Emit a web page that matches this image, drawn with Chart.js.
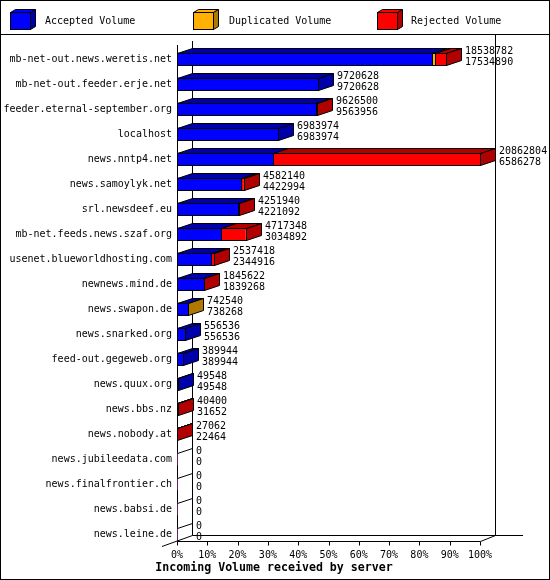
<!DOCTYPE html>
<html>
<head>
<meta charset="utf-8">
<script src="https://cdn.jsdelivr.net/npm/chart.js@4.4.1/dist/chart.umd.min.js"></script>
<style>
  html, body { margin: 0; padding: 0; background: #fff; }
  #wrap { width: 550px; height: 580px; }
</style>
</head>
<body>
<div id="wrap"><canvas id="chart" width="550" height="580"></canvas></div>
<script>
"use strict";

// ---- data ----
const servers = [
  "mb-net-out.news.weretis.net",
  "mb-net-out.feeder.erje.net",
  "feeder.eternal-september.org",
  "localhost",
  "news.nntp4.net",
  "news.samoylyk.net",
  "srl.newsdeef.eu",
  "mb-net.feeds.news.szaf.org",
  "usenet.blueworldhosting.com",
  "newnews.mind.de",
  "news.swapon.de",
  "news.snarked.org",
  "feed-out.gegeweb.org",
  "news.quux.org",
  "news.bbs.nz",
  "news.nobody.at",
  "news.jubileedata.com",
  "news.finalfrontier.ch",
  "news.babsi.de",
  "news.leine.de",
];
const totalVolume = [
  18538782, 9720628, 9626500, 6983974, 20862804, 4582140, 4251940, 4717348,
  2537418, 1845622, 742540, 556536, 389944, 49548, 40400, 27062, 0, 0, 0, 0,
];
const acceptedVolume = [
  17534890, 9720628, 9563956, 6983974, 6586278, 4422994, 4221092, 3034892,
  2344916, 1839268, 738268, 556536, 389944, 49548, 31652, 22464, 0, 0, 0, 0,
];
const duplicatedVolume = [
  250000, 0, 0, 0, 0, 0, 0, 0, 0, 0, 4272, 0, 0, 0, 0, 0, 0, 0, 0, 0,
];
const rejectedVolume = [
  753892, 0, 62544, 0, 14276526, 159146, 30848, 1682456, 192502, 6354,
  0, 0, 0, 0, 8748, 4598, 0, 0, 0, 0,
];
const seriesNames = ["Accepted Volume", "Duplicated Volume", "Rejected Volume"];
const tickLabels = ["0%", "10%", "20%", "30%", "40%", "50%", "60%", "70%", "80%", "90%", "100%"];
const axisTitle = "Incoming Volume received by server";

// ---- look ----
const FRONT = ["#0000ff", "#ffb000", "#ff0000"];
const SHADE = ["#0000aa", "#b07800", "#b00000"];
const DX = 15;  // 3D depth, x
const DY = 5;   // 3D depth, y
const FONT = "10px 'DejaVu Sans Mono', monospace";
const BOLD = "bold 11.6px 'DejaVu Sans Mono', monospace";

// bars are scaled against the biggest server (= 100%)
const maxTotal = Math.max(...totalVolume);
const pct = (arr) => arr.map((v) => (v / maxTotal) * 100);
const series = [acceptedVolume, duplicatedVolume, rejectedVolume];

function line(ctx, x1, y1, x2, y2) {
  ctx.beginPath();
  ctx.moveTo(x1, y1);
  ctx.lineTo(x2, y2);
  ctx.stroke();
}

function poly(ctx, pts, fill) {
  ctx.beginPath();
  ctx.moveTo(pts[0][0], pts[0][1]);
  for (let i = 1; i < pts.length; i++) ctx.lineTo(pts[i][0], pts[i][1]);
  ctx.closePath();
  if (fill) {
    ctx.fillStyle = fill;
    ctx.fill();
  }
  ctx.stroke();
}

/**
 * Pseudo-3D look: walls + floor behind the bars, then top / side faces
 * and outlines on top of the bars Chart.js filled, plus value labels,
 * legend boxes and the axis title.
 */
const box3d = {
  id: "box3d",

  beforeDatasetsDraw(chart) {
    const { ctx, chartArea, scales } = chart;
    const left = Math.round(chartArea.left);
    const right = Math.round(chartArea.right);
    const top = Math.round(chartArea.top);
    const floor = Math.round(chartArea.bottom - 5.5);
    const back = floor - 6;

    ctx.save();
    ctx.strokeStyle = "#000";
    ctx.lineWidth = 1;

    // walls
    line(ctx, left + 0.5, top - 2, left + 0.5, floor + 0.5);
    line(ctx, left + DX + 0.5, top - 6, left + DX + 0.5, back + 0.5);
    line(ctx, right + DX + 0.5, 35, right + DX + 0.5, back + 0.5);

    // floor
    line(ctx, left + 0.5, floor + 0.5, right + 0.5, floor + 0.5);
    line(ctx, left + DX + 0.5, back + 0.5, right + DX + 28, back + 0.5);
    line(ctx, left - 15, floor + 5.5, left + DX + 0.5, back + 0.5);
    line(ctx, right + 0.5, floor + 0.5, right + DX + 0.5, back + 0.5);

    // tick marks
    scales.x.ticks.forEach((t) => {
      const px = Math.round(scales.x.getPixelForValue(t.value)) + 0.5;
      line(ctx, px, floor + 0.5, px, floor + 4.5);
    });
    ctx.restore();
  },

  afterDatasetsDraw(chart) {
    const { ctx, scales } = chart;
    const xs = scales.x;
    const metas = chart.data.datasets.map((_, i) => chart.getDatasetMeta(i));

    ctx.save();
    ctx.strokeStyle = "#000";
    ctx.lineWidth = 1;

    servers.forEach((_, j) => {
      const els = metas.map((m) => m.data[j].getProps(["x", "y", "base", "height"], true));
      const T = Math.round(els[0].y - els[0].height / 2) + 0.5;
      const B = Math.round(els[0].y + els[0].height / 2) + 0.5;
      const L0 = Math.round(xs.getPixelForValue(0)) + 0.5;

      if (!totalVolume[j]) {
        line(ctx, L0, T, L0 + DX, T - DY);
      } else {
        let last = -1;
        els.forEach((el, i) => {
          if (!series[i][j]) return;
          const L = Math.round(el.base) + 0.5;
          const R = Math.round(el.x) + 0.5;
          // top face
          poly(ctx, [[L, T], [L + DX, T - DY], [R + DX, T - DY], [R, T]], SHADE[i]);
          // front outline
          ctx.strokeRect(L, T, R - L, B - T);
          last = i;
        });
        const R = Math.round(els[last].x) + 0.5;
        poly(ctx, [[R, T], [R + DX, T - DY], [R + DX, B - DY], [R, B]], SHADE[last]);
      }

      // value labels: total above, accepted below
      const endX = Math.round(xs.getPixelForValue(pct(totalVolume)[j])) + DX + 4;
      const cy = els[0].y;
      ctx.fillStyle = "#000";
      ctx.font = FONT;
      ctx.textAlign = "left";
      ctx.textBaseline = "alphabetic";
      ctx.fillText(String(totalVolume[j]), endX, cy - 5);
      ctx.fillText(String(acceptedVolume[j]), endX, cy + 6);
    });
    ctx.restore();
  },

  afterDraw(chart) {
    const { ctx, width, height } = chart;
    ctx.save();
    ctx.strokeStyle = "#000";
    ctx.lineWidth = 1;

    // frame + legend separator
    ctx.strokeRect(0.5, 0.5, width - 1, height - 1);
    line(ctx, 0, 34.5, width, 34.5);

    // legend
    const boxX = [10, 193, 377];
    const textX = [45, 229, 411];
    chart.data.datasets.forEach((ds, i) => {
      const x = boxX[i] + 0.5;
      const y = 12.5;
      const w = 20;
      const h = 17;
      poly(ctx, [[x, y], [x + 5, y - 3], [x + w + 5, y - 3], [x + w, y]], FRONT[i]);
      poly(ctx, [[x + w, y], [x + w + 5, y - 3], [x + w + 5, y + h - 3], [x + w, y + h]], SHADE[i]);
      ctx.fillStyle = FRONT[i];
      ctx.fillRect(x, y, w, h);
      ctx.strokeRect(x, y, w, h);
      ctx.fillStyle = "#000";
      ctx.font = FONT;
      ctx.textBaseline = "alphabetic";
      ctx.textAlign = "left";
      ctx.fillText(ds.label, textX[i], 24);
    });

    // axis title
    ctx.font = BOLD;
    ctx.textAlign = "center";
    ctx.fillText(axisTitle, 274, 571);
    ctx.restore();
  },
};

new Chart(document.getElementById("chart"), {
  type: "bar",
  data: {
    labels: servers,
    datasets: series.map((arr, i) => ({
      label: seriesNames[i],
      data: pct(arr),
      backgroundColor: FRONT[i],
      borderWidth: 0,
      barThickness: 12,
    })),
  },
  options: {
    indexAxis: "y",
    responsive: false,
    devicePixelRatio: 1,
    animation: false,
    layout: { padding: { left: 0, top: 46.5, right: 70, bottom: 0 } },
    plugins: {
      legend: { display: false },
      tooltip: { enabled: false },
    },
    scales: {
      x: {
        stacked: true,
        min: 0,
        max: 100,
        grid: { display: false, drawTicks: false },
        border: { display: false },
        ticks: {
          stepSize: 10,
          padding: 3,
          color: "#000",
          font: { family: "'DejaVu Sans Mono', monospace", size: 10 },
          callback: (v, idx) => tickLabels[idx],
        },
        afterFit: (scale) => { scale.height = 33.5; },
      },
      y: {
        stacked: true,
        grid: { display: false, drawTicks: false },
        border: { display: false },
        ticks: {
          padding: 5,
          color: "#000",
          autoSkip: false,
          font: { family: "'DejaVu Sans Mono', monospace", size: 10 },
        },
        afterFit: (scale) => { scale.width = 177; },
      },
    },
  },
  plugins: [box3d],
});
</script>
</body>
</html>
